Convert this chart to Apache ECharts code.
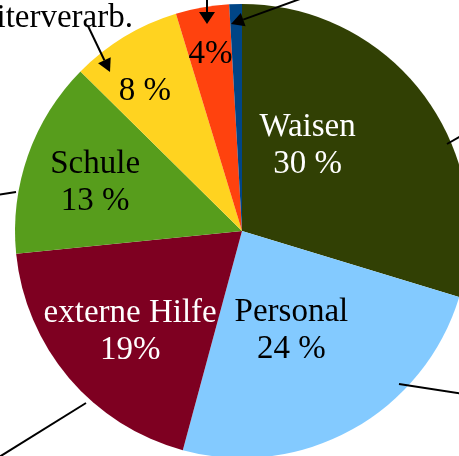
<!DOCTYPE html>
<html>
<head>
<meta charset="utf-8">
<script src="https://cdn.jsdelivr.net/npm/echarts@6/dist/echarts.min.js"></script>
<style>
html,body{margin:0;padding:0;background:#fff;}
#chart{width:459px;height:456px;}
</style>
</head>
<body>
<div id="chart"></div>
<script>
// ---- data ----
var categories = ['Waisen', 'Personal', 'externe Hilfe', 'Schule', 'Weiterverarb.', 'Sonstiges', 'Rest'];
var values = [29.7, 24.5, 19.2, 14.0, 7.9, 3.8, 0.9];
var sliceTitles = ['Waisen', 'Personal', 'externe Hilfe', 'Schule', '', '', ''];
var percentLabels = ['30 %', '24 %', '19%', '13 %', '8 %', '4%', ''];

// ---- styling ----
var colors = ['#314004', '#83caff', '#7e0021', '#579d1c', '#ffd320', '#ff420e', '#004586'];
var labelColors = ['#ffffff', '#000000', '#ffffff', '#000000', '#000000', '#000000', '#000000'];
var labelShift = [[-28, -16], [-7, -2], [-23, 25], [-37, -9], [-37, -40], [-11, -62], [0, 0]];
var FONT = '"Liberation Serif", "Times New Roman", serif';
var FS = 33;

var chart = echarts.init(document.getElementById('chart'), null, {renderer: 'canvas'});

var seriesData = categories.map(function (c, i) {
  var txt = sliceTitles[i] ? sliceTitles[i] + '\n' + percentLabels[i] : percentLabels[i];
  return {
    name: c,
    value: values[i],
    itemStyle: {color: colors[i]},
    label: {color: labelColors[i], formatter: txt}
  };
});

function arrow(x1, y1, x2, y2, len, half) {
  var dx = x2 - x1, dy = y2 - y1, L = Math.sqrt(dx * dx + dy * dy);
  var ux = dx / L, uy = dy / L;
  var bx = x2 - ux * len, by = y2 - uy * len;
  return [
    {type: 'line', shape: {x1: x1, y1: y1, x2: bx, y2: by}, style: {stroke: '#000', lineWidth: 2}, z: 10},
    {type: 'polygon', shape: {points: [[x2, y2], [bx - uy * half, by + ux * half], [bx + uy * half, by - ux * half]]}, style: {fill: '#000'}, z: 10}
  ];
}
function seg(x1, y1, x2, y2) {
  return {type: 'line', shape: {x1: x1, y1: y1, x2: x2, y2: y2}, style: {stroke: '#000', lineWidth: 2}, z: 10};
}

var graphics = [
  seg(447, 144, 466, 133),
  seg(399, 384, 470, 395),
  seg(86, 403, -4, 459),
  seg(-4, 195, 16, 192),
  {type: 'text', z: 10, style: {text: 'Weiterverarb.', x: 133, y: 18, font: FS + 'px ' + FONT, fill: '#000', textAlign: 'right', textVerticalAlign: 'middle'}}
].concat(arrow(88, 26, 110, 72, 13, 7))
 .concat(arrow(207, -2, 207, 24, 12, 8))
 .concat(arrow(300, -1, 231, 24, 13, 7));

chart.setOption({
  animation: false,
  backgroundColor: '#ffffff',
  graphic: graphics,
  series: [{
    type: 'pie',
    center: [242, 231],
    radius: 227,
    startAngle: 90,
    clockwise: true,
    avoidLabelOverlap: false,
    itemStyle: {borderWidth: 0},
    emphasis: {disabled: true},
    label: {
      show: true,
      position: 'inside',
      fontFamily: FONT,
      fontSize: FS,
      lineHeight: 37,
      overflow: 'none',
      align: 'center'
    },
    labelLine: {show: false},
    labelLayout: function (p) {
      var s = labelShift[p.dataIndex];
      return {dx: s[0], dy: s[1]};
    },
    data: seriesData
  }]
});
</script>
</body>
</html>
